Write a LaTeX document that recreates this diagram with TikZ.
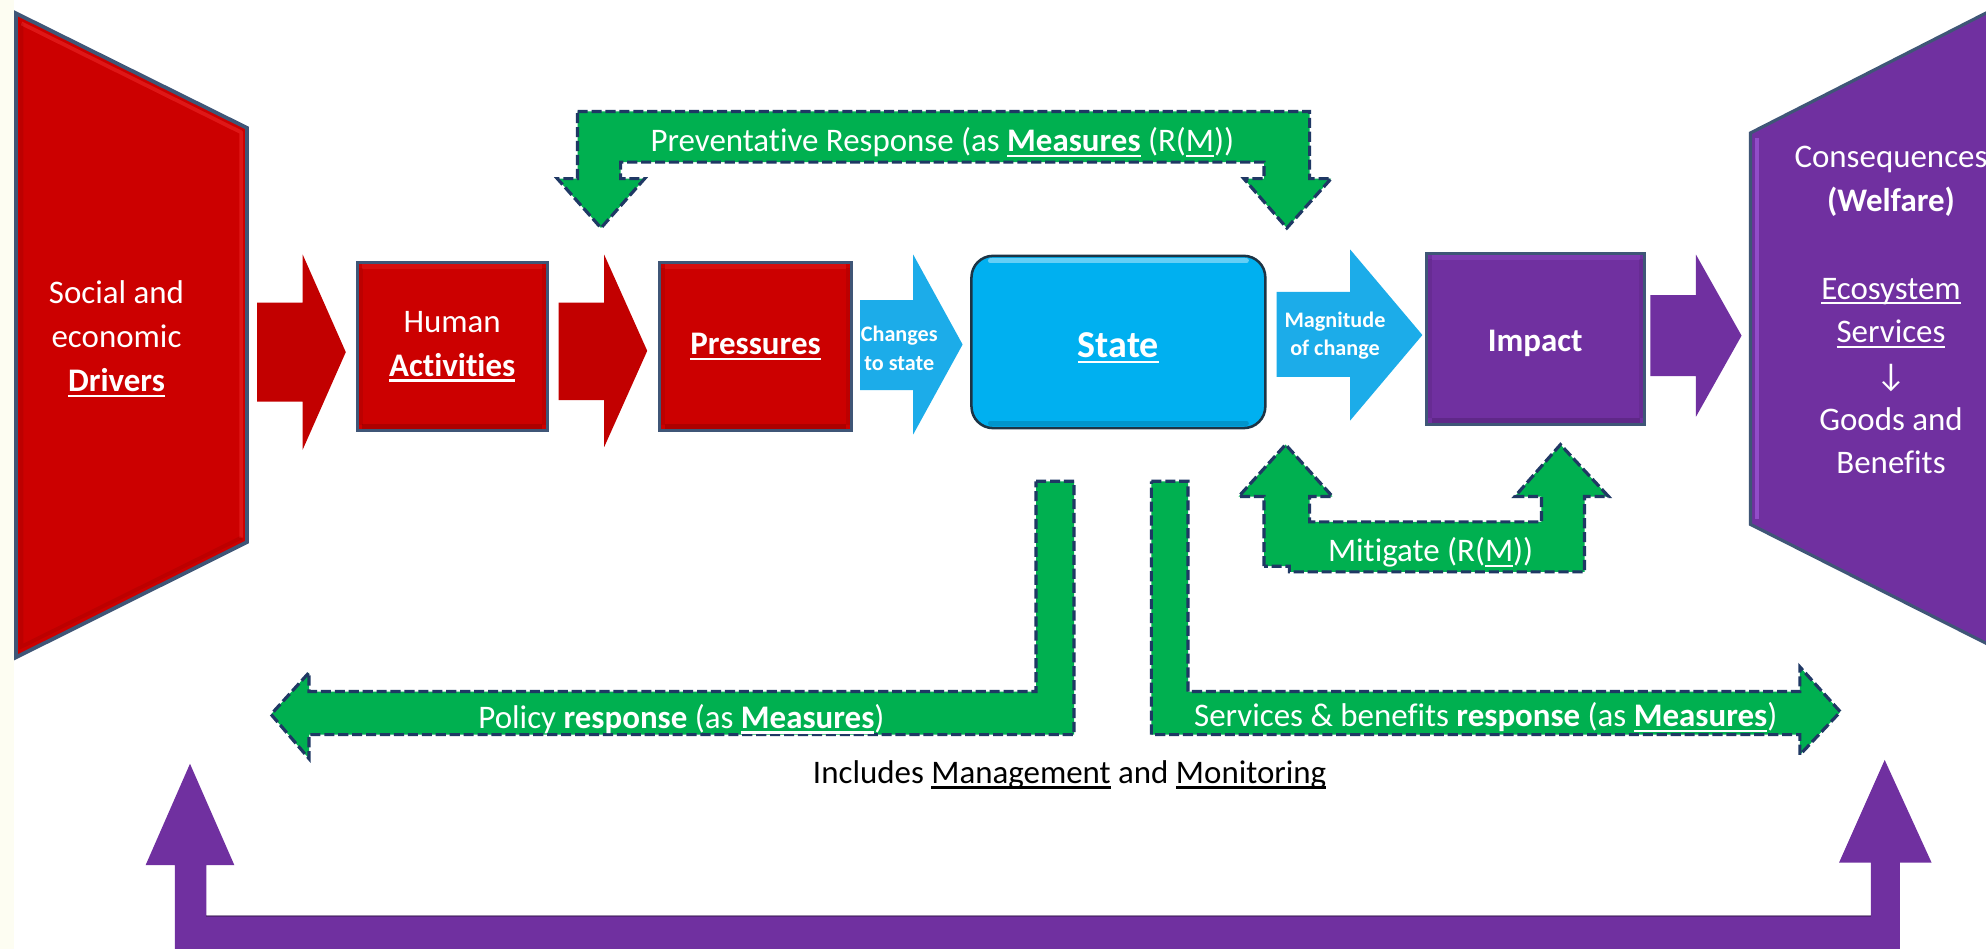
\documentclass[tikz,border=0pt]{standalone}
\usepackage{fontspec}
\setmainfont{Carlito}[Ligatures=NoCommon]
\usetikzlibrary{calc}

% underline drawn at a fixed depth below the baseline, independent of descenders
\newsavebox{\ulbox}
\newcommand{\ulx}[1]{\leavevmode\sbox{\ulbox}{#1}\rlap{\rule[-0.165em]{\wd\ulbox}{0.065em}}\usebox{\ulbox}}

\definecolor{drvred}{HTML}{CC0000}
\definecolor{drvlight}{HTML}{EE2A2A}
\definecolor{arrred}{HTML}{C20000}
\definecolor{edgeblue}{HTML}{3F5677}
\definecolor{statecyan}{HTML}{00B0F0}
\definecolor{stateedge}{HTML}{1D3445}
\definecolor{arrcyan}{HTML}{1CACE9}
\definecolor{boxpurple}{HTML}{7030A0}
\definecolor{purplelight}{HTML}{9A55D2}
\definecolor{respgreen}{HTML}{00B050}
\definecolor{dashnavy}{HTML}{1F3864}
\definecolor{cream}{HTML}{FDFDF2}

% draws the soft bevel of a square box: light band on top, darker band at the bottom
\newcommand{\bevelrect}[2]{%
  \draw[line width=4pt,#2,opacity=0.35]
    ([xshift=5pt,yshift=-4.5pt]#1.north west) -- ([xshift=-5pt,yshift=-4.5pt]#1.north east);
  \draw[line width=4pt,black,opacity=0.15]
    ([xshift=5pt,yshift=4.5pt]#1.south west) -- ([xshift=-5pt,yshift=4.5pt]#1.south east);
  \draw[line width=3pt,black,opacity=0.08]
    ([xshift=4pt,yshift=-6pt]#1.north west) -- ([xshift=4pt,yshift=6pt]#1.south west);
  \draw[line width=3pt,black,opacity=0.08]
    ([xshift=-4pt,yshift=-6pt]#1.north east) -- ([xshift=-4pt,yshift=6pt]#1.south east);
}

\begin{document}
\begin{tikzpicture}[x=1pt,y=-1pt,
  lbl/.style={text=white, align=center, inner sep=0pt,
              font=\fontsize{26}{34.5}\selectfont},
  smalllbl/.style={text=white, align=center, inner sep=0pt,
              font=\fontsize{17.5}{22.5}\selectfont\bfseries},
  squarebox/.style={lbl, draw=edgeblue, line width=2.5pt,
              minimum width=150pt, minimum height=133pt},
  respband/.style={fill=respgreen, draw=dashnavy, line width=2.5pt,
              dash pattern=on 8pt off 3pt, line join=miter},
]
\useasboundingbox (0,0) rectangle (1568,749);
\clip (0,0) rectangle (1568,749);
\fill[white] (0,0) rectangle (1568,749);
\fill[cream] (0,0) rectangle (11,749);

% ---------- social and economic drivers ----------
\fill[drvred] (12.6,10.5) -- (195,101) -- (195,428) -- (12.6,519) -- cycle;
\draw[drvlight, line width=3pt, opacity=0.55, line join=round]
  (17,18.5) -- (190.5,104.5) -- (190.5,424.5);
\draw[black, line width=3pt, opacity=0.08]
  (190.5,424.5) -- (17,510.5) -- (17,18.5);
\draw[edgeblue, line width=3pt, line join=miter]
  (12.6,10.5) -- (195,101) -- (195,428) -- (12.6,519) -- cycle;
\node[lbl] (drv) at (92,267.5) {Social and\\economic\\\textbf{\ulx{Drivers}}};

% ---------- red flow ----------
\fill[arrred] (203,239) -- (239,239) -- (239,201) -- (273,278) -- (239,355) -- (239,317) -- (203,317) -- cycle;
\node[squarebox, fill=drvred] (act) at (357,273.5) {Human\\\textbf{\ulx{Activities}}};
\bevelrect{act}{drvlight}
\fill[arrred] (441,239) -- (477,239) -- (477,201) -- (511,277) -- (477,353) -- (477,316) -- (441,316) -- cycle;
\node[squarebox, fill=drvred, minimum width=151pt] (prs) at (596.5,273.5) {\textbf{\ulx{Pressures}}};
\bevelrect{prs}{drvlight}

% ---------- state ----------
\fill[arrcyan] (679,237) -- (721,237) -- (721,201) -- (760,272) -- (721,343) -- (721,308) -- (679,308) -- cycle;
\node[smalllbl] (chg) at (710,275) {Changes\\to state};
\node[lbl, fill=statecyan, draw=stateedge, line width=2pt,
      rounded corners=17pt, minimum width=232pt, minimum height=136pt] (st) at (883,270) {};
\draw[white, opacity=0.4, line width=4pt, line cap=round]
  ([xshift=16pt,yshift=-5pt]st.north west) -- ([xshift=-16pt,yshift=-5pt]st.north east);
\draw[black, opacity=0.15, line width=4pt, line cap=round]
  ([xshift=16pt,yshift=5pt]st.south west) -- ([xshift=-16pt,yshift=5pt]st.south east);
\node[lbl, font=\fontsize{30}{36}\selectfont\bfseries] (sttxt) at (883,274.5) {\ulx{State}};

\fill[arrcyan] (1008,230.5) -- (1066,230.5) -- (1066,197) -- (1123,264.5) -- (1066,332) -- (1066,297.5) -- (1008,297.5) -- cycle;
\node[smalllbl] (mag) at (1054,265) {Magnitude\\of change};

% ---------- impact ----------
\node[squarebox, fill=boxpurple, minimum width=172pt, minimum height=135pt] (imp) at (1212.5,267.5) {};
\bevelrect{imp}{purplelight}
\node[lbl, font=\fontsize{26}{34.5}\selectfont\bfseries] (imptxt) at (1212,271) {Impact};
\fill[boxpurple] (1303,233) -- (1339,233) -- (1339,201) -- (1375,265) -- (1339,329) -- (1339,297) -- (1303,297) -- cycle;

% ---------- consequences (welfare) ----------
\fill[boxpurple] (1382,105) -- (1600,-6) -- (1600,524) -- (1382,414) -- cycle;
\draw[purplelight, line width=3.5pt, opacity=0.8] (1387,109) -- (1387,410);
\draw[edgeblue, line width=2.5pt, line join=miter] (1600,-6) -- (1382,105) -- (1382,414) -- (1600,524);
\node[lbl] (csq) at (1493,245) {Consequences\\\textbf{(Welfare)}\\[34.5pt]\ulx{Ecosystem}\\\ulx{Services}\\↓\\Goods and\\Benefits};

% ---------- responses (as measures) ----------
\draw[respband] (456,88) -- (1034,88) -- (1034,141) -- (1051,141) -- (1016,180) -- (982,141)
  -- (998,141) -- (998,128) -- (490,128) -- (490,141) -- (509,141) -- (474.5,180) -- (440,141)
  -- (456,141) -- cycle;
\node[lbl] (prev) at (744,112.5) {Preventative Response (as \textbf{\ulx{Measures}} (R(\ulx{M}))};

\draw[respband] (998,447) -- (998,392) -- (978,392) -- (1015,351) -- (1052,392) -- (1034,392)
  -- (1034,412) -- (1217,412) -- (1217,392) -- (1196,392) -- (1232,351) -- (1270,392)
  -- (1251,392) -- (1251,451.5) -- (1018,451.5) -- (1018,447) -- cycle;
\node[lbl] (mit) at (1129.5,436) {Mitigate (R(\ulx{M}))};

\draw[respband] (818,380) -- (848,380) -- (848,580) -- (244,580) -- (244,599) -- (214,564)
  -- (244,531) -- (244,546) -- (818,546) -- cycle;
\node[lbl] (pol) at (538,567.5) {Policy \textbf{response} (as \textbf{\ulx{Measures}})};

\draw[respband] (909,380) -- (938,380) -- (938,546) -- (1421,546) -- (1421,526.5) -- (1453,562)
  -- (1421,596) -- (1421,580) -- (909,580) -- cycle;
\node[lbl] (srv) at (1173,566.5) {Services \& benefits \textbf{response} (as \textbf{\ulx{Measures}})};

\node[lbl, text=black] (inc) at (844.5,611.5) {Includes \ulx{Management} and \ulx{Monitoring}};

% ---------- feedback from welfare to drivers ----------
\fill[boxpurple] (138,760) -- (138,683) -- (115,683) -- (150,603) -- (185,683) -- (163,683)
  -- (163,723) -- (1477,723) -- (1477,681) -- (1452,681) -- (1488,600) -- (1525,681)
  -- (1500,681) -- (1500,760) -- cycle;
\draw[black, opacity=0.25, line width=1.5pt] (163,723.5) -- (1477,723.5);
\end{tikzpicture}
\end{document}
